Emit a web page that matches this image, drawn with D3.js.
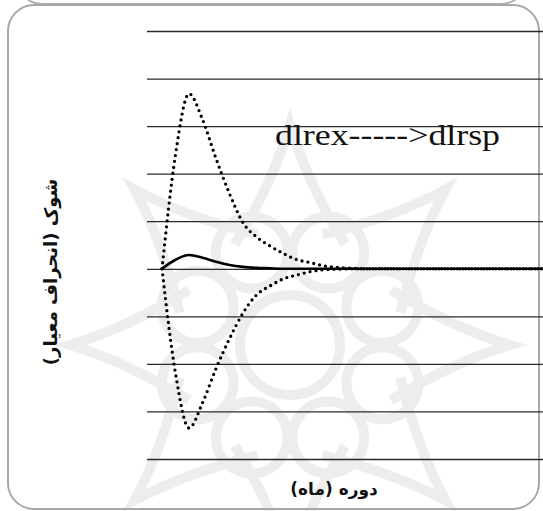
<!DOCTYPE html>
<html>
<head>
<meta charset="utf-8">
<script src="https://cdn.jsdelivr.net/npm/d3@7"></script>
<style>
  html, body { margin: 0; padding: 0; background: #fff; }
  svg { display: block; }
</style>
</head>
<body>
<svg id="chart" width="543" height="511"></svg>
<script>
// ---- data ----
const periods = d3.range(1, 31);                  // months 1..30
const upperBand = [0, 2.4, 3.68, 3.14, 2.32, 1.58, 0.97, 0.67, 0.48, 0.32, 0.19, 0.13, 0.06, 0.03, 0.01,
                   0, 0, 0, 0, 0, 0, 0, 0, 0, 0, 0, 0, 0, 0, 0];
const lowerBand = [0, -2.2, -3.35, -2.82, -2.1, -1.47, -0.93, -0.55, -0.36, -0.21, -0.13, -0.06, -0.02, -0.01, 0,
                   0, 0, 0, 0, 0, 0, 0, 0, 0, 0, 0, 0, 0, 0, 0];
const response  = [0, 0.19, 0.29, 0.23, 0.15, 0.08, 0.04, 0.02, 0.01, 0,
                   0, 0, 0, 0, 0, 0, 0, 0, 0, 0, 0, 0, 0, 0, 0, 0, 0, 0, 0, 0];
const yTicks = [-4, -3, -2, -1, 0, 1, 2, 3, 4, 5];
const title = "dlrex----->dlrsp";
const yLabel = "شوک (انحراف معیار)";
const xLabel = "دوره (ماه)";

const svg = d3.select("#chart");

// ---- decorative watermark (background) ----
const wm = svg.append("g").attr("fill", "none").attr("stroke", "#ededed").attr("stroke-width", 10);
const cx = 290, cy = 345;
d3.range(8).forEach(i => {
  const a = i * Math.PI / 4 + Math.PI / 8;
  wm.append("circle").attr("cx", cx + 100 * Math.cos(a)).attr("cy", cy + 100 * Math.sin(a)).attr("r", 36);
});
d3.range(8).forEach(i => {
  const a = i * Math.PI / 4;
  const tip = [cx + 220 * Math.cos(a), cy + 220 * Math.sin(a)];
  const l = [cx + 115 * Math.cos(a - 0.5), cy + 115 * Math.sin(a - 0.5)];
  const r = [cx + 115 * Math.cos(a + 0.5), cy + 115 * Math.sin(a + 0.5)];
  wm.append("path").attr("d", `M${l[0]},${l[1]} Q${cx + 165 * Math.cos(a - 0.1)},${cy + 165 * Math.sin(a - 0.1)} ${tip[0]},${tip[1]} Q${cx + 165 * Math.cos(a + 0.1)},${cy + 165 * Math.sin(a + 0.1)} ${r[0]},${r[1]}`);
});
wm.append("circle").attr("cx", cx).attr("cy", cy).attr("r", 50);

// ---- frames ----
svg.append("rect").attr("x", 17).attr("y", -100).attr("width", 509).attr("height", 104)
  .attr("rx", 25).attr("fill", "none").attr("stroke", "#b0b0b0").attr("stroke-width", 2);
svg.append("rect").attr("x", 8).attr("y", 5).attr("width", 531).attr("height", 504)
  .attr("rx", 26).attr("fill", "none").attr("stroke", "#a8a8a8").attr("stroke-width", 2);

// ---- scales ----
const x = d3.scaleLinear().domain([1, 30]).range([162, 553.5]);
const y = d3.scaleLinear().domain([-4, 5]).range([459, 31]);

// ---- grid lines via axis ----
const gridG = svg.append("g").attr("transform", "translate(147,0)")
  .call(d3.axisLeft(y).tickValues(yTicks).tickSize(-420).tickFormat(""));
gridG.select(".domain").remove();
gridG.selectAll(".tick line").attr("stroke", "#2a2a2a").attr("stroke-width", 1.3);

// ---- lines ----
const line = d3.line().x((d, i) => x(periods[i])).y(d => y(d)).curve(d3.curveMonotoneX);

svg.append("path").datum(response).attr("d", line)
  .attr("fill", "none").attr("stroke", "#000").attr("stroke-width", 2.6);

[upperBand, lowerBand].forEach(arr => {
  svg.append("path").datum(arr).attr("d", line)
    .attr("fill", "none").attr("stroke", "#000").attr("stroke-width", 3.3)
    .attr("stroke-linecap", "round").attr("stroke-dasharray", "0 6");
});

// ---- texts ----
svg.append("text").attr("x", 275).attr("y", 145)
  .attr("font-family", "'Liberation Serif', 'Times New Roman', serif")
  .attr("font-size", 29).attr("fill", "#111")
  .attr("textLength", 225).attr("lengthAdjust", "spacingAndGlyphs")
  .text(title);

svg.append("text")
  .attr("transform", "translate(57,272) rotate(-90)")
  .attr("text-anchor", "middle")
  .attr("font-family", "'DejaVu Sans', 'Noto Sans', sans-serif")
  .attr("font-weight", "bold").attr("font-size", 18).attr("fill", "#111")
  .attr("direction", "rtl")
  .text(yLabel);

svg.append("text").attr("x", 334).attr("y", 495)
  .attr("text-anchor", "middle")
  .attr("font-family", "'DejaVu Sans', 'Noto Sans', sans-serif")
  .attr("font-weight", "bold").attr("font-size", 17).attr("fill", "#111")
  .attr("direction", "rtl")
  .text(xLabel);
</script>
</body>
</html>
